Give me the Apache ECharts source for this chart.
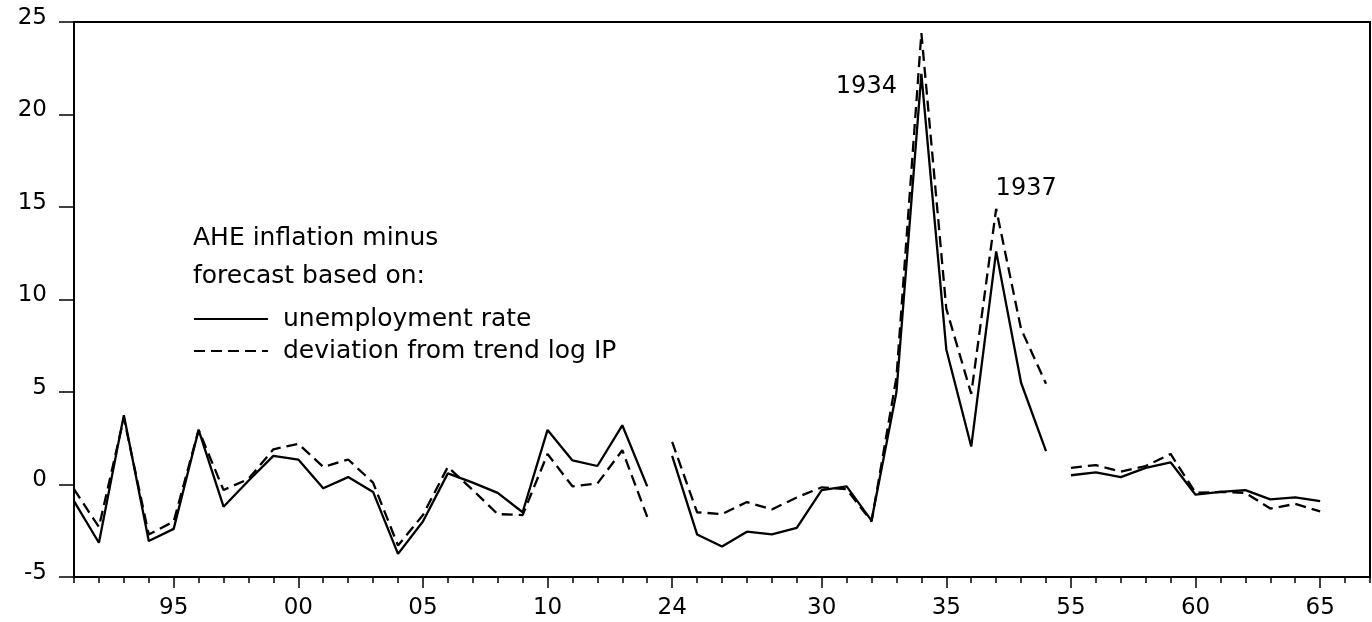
<!DOCTYPE html>
<html>
<head>
<meta charset="utf-8">
<script src="https://cdn.jsdelivr.net/npm/echarts@6/dist/echarts.min.js"></script>
<style>
  html, body { margin: 0; padding: 0; background: #fff; }
  #chart { width: 1372px; height: 622px; }
</style>
</head>
<body>
<div id="chart"></div>
<script>
// ============================================================================
// Data
// ============================================================================

const years1 = ['1891', '1892', '1893', '1894', '1895', '1896', '1897', '1898', '1899', '1900',
                '1901', '1902', '1903', '1904', '1905', '1906', '1907', '1908', '1909', '1910',
                '1911', '1912', '1913', '1914']
const unemp1 = [-0.9, -3.15, 3.75, -3.05, -2.4, 2.95, -1.2, 0.2, 1.55, 1.35,
                -0.2, 0.4, -0.4, -3.75, -2.0, 0.6, 0.1, -0.45, -1.5, 2.95,
                1.3, 1.0, 3.2, -0.1]
const ip1 = [-0.25, -2.3, 3.6, -2.7, -2.0, 2.95, -0.3, 0.3, 1.9, 2.2,
             0.95, 1.35, 0.1, -3.3, -1.65, 0.95, -0.3, -1.6, -1.65, 1.65,
             -0.1, 0.05, 1.85, -1.75]

const years2 = ['1924', '1925', '1926', '1927', '1928', '1929', '1930', '1931', '1932', '1933',
                '1934', '1935', '1936', '1937', '1938', '1939']
const unemp2 = [1.55, -2.7, -3.35, -2.55, -2.7, -2.35, -0.3, -0.1, -1.95, 5.0,
                22.2, 7.3, 2.05, 12.6, 5.5, 1.8]
const ip2 = [2.3, -1.5, -1.6, -0.95, -1.35, -0.7, -0.15, -0.25, -2.0, 5.8,
             24.4, 9.5, 4.9, 14.9, 8.4, 5.45]

const years3 = ['1955', '1956', '1957', '1958', '1959', '1960', '1961', '1962', '1963', '1964', '1965']
const unemp3 = [0.5, 0.65, 0.4, 0.9, 1.2, -0.55, -0.4, -0.3, -0.8, -0.7, -0.9]
const ip3 = [0.9, 1.05, 0.7, 1.0, 1.65, -0.45, -0.4, -0.45, -1.3, -1.05, -1.45]

const trailingYears = ['1966', '1967']
const labelledYears = ['1895', '1900', '1905', '1910', '1924', '1930', '1935', '1955', '1960', '1965']

const legendHeading = ['AHE inflation minus', 'forecast based on:']
const unempName = 'unemployment rate'
const ipName = 'deviation from trend log IP'

// ============================================================================
// Helpers
// ============================================================================

const FONT = 'DejaVu Sans'
const categories = [...years1, ...years2, ...years3, ...trailingYears]
const isLabelled = (idx, value) => labelledYears.includes(value)

function _segmentSeries(name, years, values, lineType, markPoint) {
    return {
        name: name,
        type: 'line',
        symbol: 'none',
        silent: true,
        animation: false,
        lineStyle: {color: '#000', width: 2.3, type: lineType},
        itemStyle: {color: '#000'},
        data: years.map((y, i) => [categories.indexOf(y), values[i]]),
        markPoint: markPoint,
    }
}

function _annotation(year, years, values, offset) {
    return {
        symbolSize: 0,
        silent: true,
        label: {show: true, formatter: '{b}', color: '#000', fontSize: 24, fontFamily: FONT},
        data: [{
            name: year,
            coord: [categories.indexOf(year), values[years.indexOf(year)]],
            label: {offset: offset},
        }],
    }
}

// ============================================================================
// Render
// ============================================================================

function renderChart() {
    const chart = echarts.init(document.getElementById('chart'))
    const dashed = [11, 6]
    const option = {
        animation: false,
        grid: {left: 74, right: 2, top: 22, bottom: 45, show: true, borderColor: '#000', borderWidth: 2},
        xAxis: [
            {
                type: 'category',
                data: categories,
                boundaryGap: false,
                axisLine: {onZero: false, lineStyle: {color: '#000', width: 2}},
                axisTick: {interval: 0, length: 6, lineStyle: {color: '#000', width: 1.5}},
                axisLabel: {show: false},
                splitLine: {show: false},
            },
            {
                type: 'category',
                data: categories,
                boundaryGap: false,
                position: 'bottom',
                axisLine: {show: false, onZero: false},
                axisTick: {interval: isLabelled, length: 11, lineStyle: {color: '#000', width: 1.5}},
                axisLabel: {
                    interval: isLabelled,
                    formatter: v => v.slice(2),
                    color: '#000', fontSize: 23, fontFamily: FONT, margin: 20,
                },
                splitLine: {show: false},
            },
        ],
        yAxis: {
            type: 'value',
            min: -5,
            max: 25,
            interval: 5,
            axisLine: {show: true, lineStyle: {color: '#000', width: 2}},
            axisTick: {show: true, length: 15, lineStyle: {color: '#000', width: 1.5}},
            axisLabel: {
                color: '#000', fontSize: 23, fontFamily: FONT, margin: 27,
                verticalAlign: 'bottom', lineHeight: 8,
            },
            splitLine: {show: false},
        },
        legend: {
            data: [unempName, ipName],
            orient: 'vertical',
            left: 193,
            top: 306,
            padding: 0,
            itemWidth: 74,
            itemHeight: 14,
            itemGap: 6,
            selectedMode: false,
            itemStyle: {opacity: 0},
            textStyle: {color: '#000', fontSize: 25, fontFamily: FONT, lineHeight: 26, padding: [0, 0, 0, 10]},
        },
        graphic: legendHeading.map((t, i) => ({
            type: 'text',
            x: 193,
            y: 238 + i * 38,
            silent: true,
            style: {text: t, fill: '#000', fontSize: 25, fontFamily: FONT, verticalAlign: 'middle'},
        })),
        series: [
            _segmentSeries(unempName, years1, unemp1, 'solid'),
            _segmentSeries(unempName, years2, unemp2, 'solid', _annotation('1934', years2, unemp2, [-55, 13])),
            _segmentSeries(unempName, years3, unemp3, 'solid'),
            _segmentSeries(ipName, years1, ip1, dashed),
            _segmentSeries(ipName, years2, ip2, dashed, _annotation('1937', years2, ip2, [30, -20])),
            _segmentSeries(ipName, years3, ip3, dashed),
        ],
    }
    chart.setOption(option)
}

renderChart()
</script>
</body>
</html>
